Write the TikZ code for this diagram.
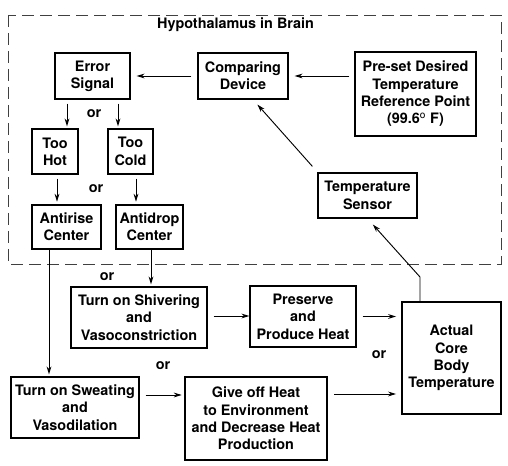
\documentclass[tikz,border=0pt]{standalone}
\usepackage{fontspec}
\setmainfont{TeX Gyre Heros}
\usetikzlibrary{arrows.meta}

\begin{document}
\begin{tikzpicture}[x=0.75pt,y=-0.75pt,
	every node/.style={font=\fontsize{10.8}{13}\selectfont\bfseries, align=center, inner sep=0pt},
	box/.style 2 args={draw, line width=0.9pt, minimum width=#1*0.75pt, minimum height=#2*0.75pt},
	arr/.style={-{Stealth[length=6pt,width=3.6pt]}, line width=0.7pt}]
	\useasboundingbox (0,0) rectangle (508,466);
	\draw[black!75, line width=0.7pt, dash pattern=on 9pt off 4.5pt] (8,15) rectangle (501,264);
	\node (title) at (235.5,25) {Hypothalamus in Brain};
	% boxes inside the brain
	\node[box={75}{46}] (err) at (92.5,76) {Error\\Signal};
	\node[box={90}{46}] (comp) at (243,76) {Comparing\\Device};
	\node[box={121}{84}] (preset) at (415.5,94) {Pre-set Desired\\Temperature\\Reference Point\\(99.6$^{\mathrm{o}}$ F)};
	\node[box={46}{45}] (hot) at (55,151.5) {Too\\Hot};
	\node[box={45}{45}] (cold) at (130.5,151.5) {Too\\Cold};
	\node[box={69}{44}] (antirise) at (66.5,227) {Antirise\\Center};
	\node[box={67}{44}] (antidrop) at (149.5,227) {Antidrop\\Center};
	\node[box={99}{45}] (sensor) at (367.5,195.5) {Temperature\\Sensor};
	% boxes below
	\node[box={136}{61}] (shiver) at (139,317.5) {Turn on Shivering\\and\\Vasoconstriction};
	\node[box={106}{61}] (preserve) at (303,316.5) {Preserve\\and\\Produce Heat};
	\node[box={99}{112}] (core) at (451.5,358) {Actual\\Core\\Body\\Temperature};
	\node[box={128}{61}] (sweat) at (75,407.5) {Turn on Sweating\\and\\Vasodilation};
	\node[box={142}{83}] (giveoff) at (256,418.5) {Give off Heat\\to Environment\\and Decrease Heat\\Production};
	% or
	\node (or1) at (94,114) {or};
	\node (or2) at (96,189) {or};
	\node (or3) at (107,277) {or};
	\node (or4) at (163,366) {or};
	\node (or5) at (379,355) {or};
	% arrows
	\draw[arr, shorten <=5pt*0.75, shorten >=6pt*0.75] (comp.east -| preset.west) -- (comp.east);
	\draw[arr, shorten <=6pt*0.75, shorten >=6pt*0.75] (comp.west) -- (err.east);
	\draw[arr, shorten <=3pt, shorten >=1.5pt] ([shift={(-25.5,0)}]err.south) -- ([shift={(-25.5,0)}]err.south |- hot.north);
	\draw[arr, shorten <=3pt, shorten >=1.5pt] ([shift={(25.5,0)}]err.south) -- ([shift={(25.5,0)}]err.south |- cold.north);
	\draw[arr, shorten <=3pt, shorten >=2pt] ([shift={(2,0)}]hot.south) -- ([shift={(2,0)}]hot.south |- antirise.north);
	\draw[arr, shorten <=3pt, shorten >=2pt] ([shift={(5.5,0)}]cold.south) -- ([shift={(5.5,0)}]cold.south |- antidrop.north);
	\draw[arr, shorten >=1.5pt] ([shift={(-17.5,0)}]antirise.south) -- ([shift={(-17.5,0)}]antirise.south |- sweat.north);
	\draw[arr, shorten >=1.5pt] ([shift={(1.5,0)}]antidrop.south) -- ([shift={(1.5,0)}]antidrop.south |- shiver.north);
	\draw[arr, shorten <=4.5pt] ([shift={(0,-1.5)}]shiver.east) -- ([shift={(0,-1.5)}]shiver.east -| preserve.west);
	\draw[arr, shorten <=4.5pt, shorten >=4pt] (preserve.east) -- (preserve.east -| core.west);
	\draw[arr, shorten <=4.5pt, shorten >=2pt] ([shift={(0,-12.5)}]sweat.east) -- ([shift={(0,-12.5)}]sweat.east -| giveoff.west);
	\draw[arr, shorten <=5pt, shorten >=4pt] ([shift={(0,-24.5)}]giveoff.east) -- ([shift={(0,-24.5)}]giveoff.east -| core.west);
	\coordinate (bend) at (420,277);
	\draw[arr, shorten >=6pt] (core.north -| bend) -- (bend) -- (sensor.south);
	\draw[arr, shorten >=5pt] ([shift={(-5,-6)}]sensor.north west) -- ([shift={(10,0)}]comp.south);
\end{tikzpicture}
\end{document}
